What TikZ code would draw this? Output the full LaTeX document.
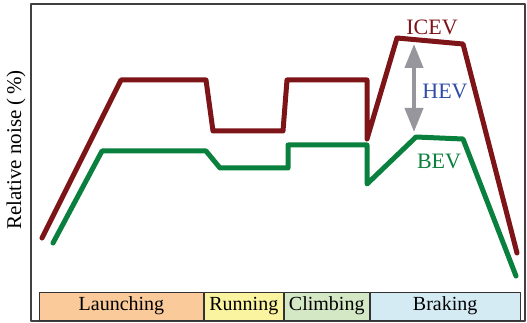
\documentclass[tikz,border=0pt]{standalone}
\usepackage{fontspec}
\setmainfont{Liberation Serif}
\usetikzlibrary{positioning,arrows.meta}
\definecolor{icevred}{RGB}{125,20,24}
\definecolor{bevgreen}{RGB}{10,128,62}
\definecolor{hevblue}{RGB}{50,75,165}
\definecolor{hevgray}{RGB}{150,150,156}
\definecolor{launchcol}{RGB}{250,202,154}
\definecolor{runcol}{RGB}{250,244,160}
\definecolor{climbcol}{RGB}{212,232,198}
\definecolor{brakecol}{RGB}{212,235,244}
\tikzset{
  curve/.style={line width=5pt,line cap=round,line join=round},
  phase/.style={draw=black!80,line width=0.9pt,minimum height=28pt,inner sep=0pt,
    font=\fontsize{20}{22}\selectfont},
  lbl/.style={font=\fontsize{22}{24}\selectfont}
}
\begin{document}
\begin{tikzpicture}[>=stealth,x=1pt,y=-1pt,line cap=round,line join=round]
			\useasboundingbox (0,0) rectangle (527,323);
			\draw[black!75,line width=1.2pt,line cap=butt] (31,4) rectangle (525,321);
			% ICEV
			\draw[curve,icevred] (42,238)--(121,80)--(206,80)--(213,131)--(283,131)--(287,80)--(367,80)
				--(367,139)--(397,38)--(463,44)--(517,253);
			% BEV
			\draw[curve,bevgreen] (53,243)--(102,151)--(206,151)--(220,168)--(288,168)--(288,145)--(367,145)
				--(367,184)--(416,137)--(463,139)--(516,276);
			\draw[hevgray,line width=4pt,line cap=butt,{Triangle[width=18pt,length=24pt]}-{Triangle[width=18pt,length=24pt]}]
				(414,44) -- (414,132);
			\node[lbl,icevred] (icev) at (432,27) {ICEV};
			\node[lbl,hevblue] (hev) at (445,91) {HEV};
			\node[lbl,bevgreen] (bev) at (439,161) {BEV};
			\node[font=\fontsize{21}{23}\selectfont,rotate=90] (ylab) at (16,150) {Relative noise (\,\%)};
			% phases
			\node[phase,fill=launchcol,minimum width=164pt,anchor=west] (launch) at (39,306) {Launching};
			\node[phase,fill=runcol,minimum width=79pt,right=0pt of launch] (run) {Running};
			\node[phase,fill=climbcol,minimum width=85pt,right=0pt of run] (climb) {Climbing};
			\node[phase,fill=brakecol,minimum width=150pt,right=0pt of climb] (brake) {Braking};
		\end{tikzpicture}
\end{document}
